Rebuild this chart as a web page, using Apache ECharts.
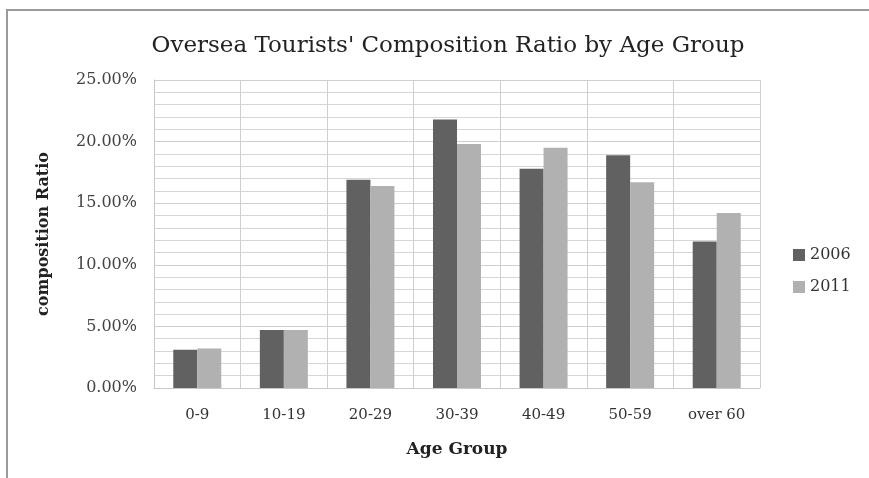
<!DOCTYPE html>
<html>
<head>
<meta charset="utf-8">
<script src="https://cdn.jsdelivr.net/npm/echarts@6/dist/echarts.min.js"></script>
<style>
  html, body { margin: 0; padding: 0; background: #fff; }
  #chart { width: 869px; height: 478px; }
</style>
</head>
<body>
<div id="chart"></div>
<script>
// age groups and ratios (%)
const ageGroups = ['0-9', '10-19', '20-29', '30-39', '40-49', '50-59', 'over 60'];
const ratio2006 = [3.1, 4.7, 16.9, 21.8, 17.8, 18.9, 11.9];
const ratio2011 = [3.2, 4.7, 16.4, 19.8, 19.5, 16.7, 14.2];
const yTicks = { min: 0, max: 25, interval: 5 };

const serif = '"DejaVu Serif", "Liberation Serif", serif';
const myChart = echarts.init(document.getElementById('chart'));

const option = {
    backgroundColor: '#fff',
    animation: false,
    title: {
        text: "Oversea Tourists' Composition Ratio by Age Group",
        left: 443,
        textAlign: 'center',
        top: 30,
        textStyle: { fontFamily: serif, fontSize: 23, fontWeight: 'normal', color: '#222' }
    },
    graphic: [{
        type: 'rect',
        shape: { x: 7, y: 10, width: 900, height: 500 },
        style: { fill: 'none', stroke: '#9a9a9a', lineWidth: 2 },
        silent: true
    }],
    legend: {
        orient: 'vertical',
        left: 788,
        top: 242,
        icon: 'rect',
        itemWidth: 12,
        itemHeight: 12,
        itemGap: 16,
        textStyle: { fontFamily: serif, fontSize: 16, color: '#333' },
        data: ['2006', '2011']
    },
    grid: { left: 154, right: 109, top: 80, bottom: 90 },
    xAxis: {
        type: 'category',
        data: ageGroups,
        name: 'Age Group',
        nameLocation: 'middle',
        nameGap: 53,
        nameTextStyle: { fontFamily: serif, fontSize: 17, fontWeight: 'bold', color: '#222' },
        axisLine: { show: true, lineStyle: { color: '#c8c8c8', width: 1 } },
        axisTick: { show: false },
        axisLabel: { fontFamily: serif, fontSize: 15, color: '#333', margin: 20 },
        splitLine: { show: true, lineStyle: { color: '#cfcfcf', width: 1 } }
    },
    yAxis: {
        type: 'value',
        min: yTicks.min,
        max: yTicks.max,
        interval: yTicks.interval,
        name: 'composition Ratio',
        nameLocation: 'middle',
        nameRotate: 90,
        nameGap: 102,
        nameTextStyle: { fontFamily: serif, fontSize: 16, fontWeight: 'bold', color: '#222' },
        axisLine: { show: true, lineStyle: { color: '#c8c8c8', width: 1 } },
        axisTick: { show: false },
        axisLabel: {
            fontFamily: serif, fontSize: 16, color: '#444', margin: 17,
            formatter: v => v.toFixed(2) + '%'
        },
        splitLine: { show: true, lineStyle: { color: '#cfcfcf', width: 1 } },
        minorTick: { show: false, splitNumber: 5 },
        minorSplitLine: { show: true, lineStyle: { color: '#d6d6d6', width: 1 } }
    },
    series: [
        {
            name: '2006',
            type: 'bar',
            data: ratio2006,
            barWidth: 24,
            barGap: '0%',
            itemStyle: { color: '#616161' }
        },
        {
            name: '2011',
            type: 'bar',
            data: ratio2011,
            barWidth: 24,
            itemStyle: { color: '#b1b1b1' }
        }
    ]
};

myChart.setOption(option);
</script>
</body>
</html>
